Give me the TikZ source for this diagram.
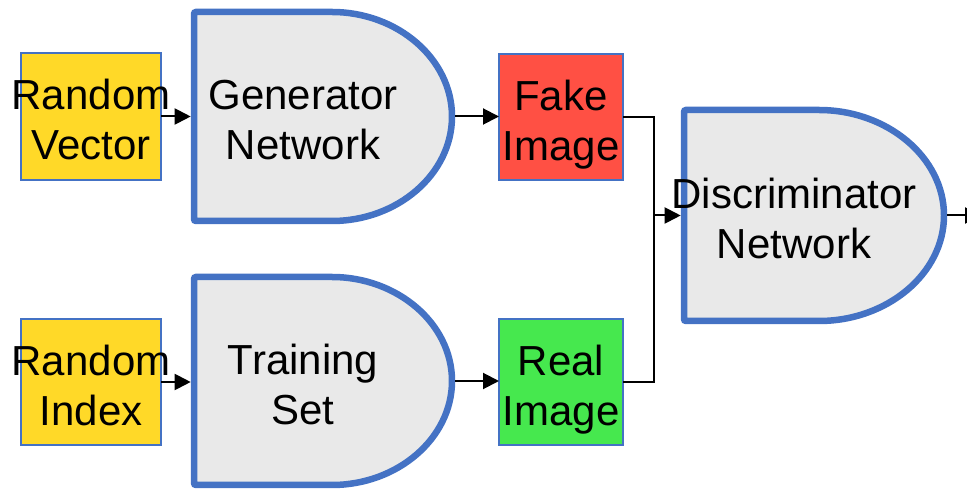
\documentclass[tikz,border=0pt]{standalone}
\usepackage{fontspec}
\setmainfont{Liberation Sans}
\usetikzlibrary{arrows.meta,backgrounds}
\definecolor{dblue}{RGB}{68,114,196}
\definecolor{dgray}{RGB}{233,233,233}
\definecolor{ryellow}{RGB}{255,217,40}
\definecolor{fred}{RGB}{255,80,68}
\definecolor{rgreen}{RGB}{70,232,78}
\newcommand{\twoline}[2]{\rule{0pt}{46pt}\makebox[0pt]{#1}\\\makebox[0pt]{#2}\rule[-9pt]{0pt}{9pt}}
\newcommand{\dtwoline}[2]{\rule{0pt}{46pt}\makebox[40pt][l]{\makebox[0pt]{#1}}\\\makebox[40pt][l]{\makebox[0pt]{#2}}\rule[-9pt]{0pt}{9pt}}
\begin{document}
\begin{tikzpicture}[x=1pt,y=1pt,
  txt/.style={font=\fontsize{42}{50}\selectfont, align=center, inner sep=0pt, outer sep=0pt},
  smallbox/.style={txt, draw=dblue, line width=1.5pt, minimum width=140pt, minimum height=127pt},
  dnode/.style={txt, minimum width=258pt, minimum height=209pt},
  dline/.style={draw=dblue, fill=dgray, line width=6.5pt, rounded corners=2pt},
  arr/.style={line width=2pt, -{Triangle[length=16pt,width=16pt]}},
  conn/.style={line width=2pt}]
\useasboundingbox (0,0) rectangle (967,490);

\node[smallbox, fill=ryellow] (rv) at (91,373.5) {\twoline{Random}{Vector}};
\node[smallbox, fill=ryellow, minimum height=126pt] (ri) at (91,108) {\twoline{Random}{Index}};
\node[smallbox, fill=fred, minimum width=124pt, minimum height=126pt] (fake) at (561,373) {\twoline{Fake}{Image}};
\node[smallbox, fill=rgreen, minimum width=124pt, minimum height=126pt] (real) at (561,108) {\twoline{Real}{Image}};
\node[dnode] (gen) at (323,373.5) {\dtwoline{Generator}{Network}};
\node[dnode, minimum height=208pt] (train) at (323,109) {\dtwoline{Training}{Set}};
\node[dnode, minimum width=260pt, minimum height=211pt] (disc) at (814,274.5) {\dtwoline{Discriminator}{Network}};

\begin{scope}[on background layer]
\path[dline] ([xshift=-122pt]gen.north east) arc[start angle=90,end angle=-90,x radius=122pt,y radius=104.5pt] -- (gen.south west) -- (gen.north west) -- cycle;
\path[dline] ([xshift=-122pt]train.north east) arc[start angle=90,end angle=-90,x radius=122pt,y radius=104pt] -- (train.south west) -- (train.north west) -- cycle;
\path[dline] ([xshift=-127pt]disc.north east) arc[start angle=90,end angle=-90,x radius=127pt,y radius=105.5pt] -- (disc.south west) -- (disc.north west) -- cycle;
\end{scope}

\draw[arr, shorten >=3.3pt] (rv.east) -- (gen.west);
\draw[arr, shorten >=3.3pt] (ri.east) -- (ri.east -| train.west);
\draw[arr, shorten <=3.3pt] (gen.east) -- (gen.east -| fake.west);
\draw[arr, shorten <=3.3pt] (train.east) -- (train.east -| real.west);
\coordinate (join) at (654,274.5);
\draw[conn] (fake.east) -| (join);
\draw[conn] (real.east) -| (join);
\draw[arr, shorten >=3.3pt] (join) -- (disc.west);
\coordinate (out) at (981,274.5);
\draw[arr, shorten <=3.3pt] (disc.east) -- (out);
\end{tikzpicture}
\end{document}
